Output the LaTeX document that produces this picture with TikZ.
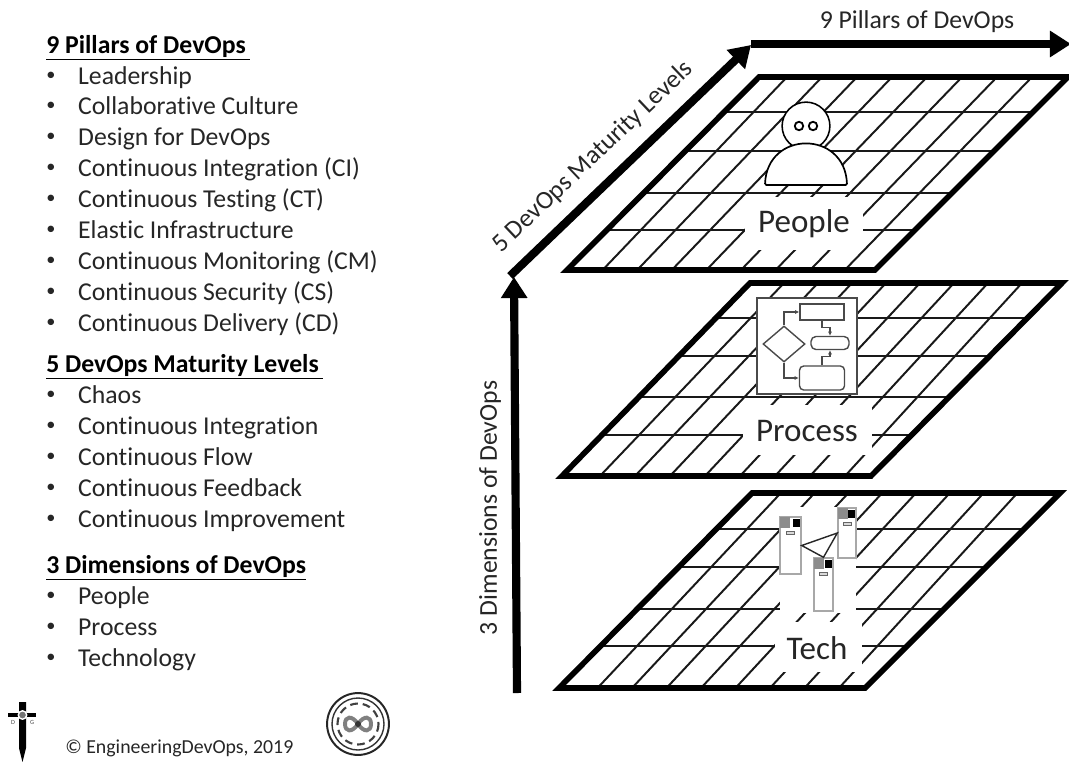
\documentclass[tikz,border=0pt]{standalone}
\usepackage{fontspec}
\setmainfont{Carlito}[Ligatures=NoCommon]
\usepackage{xcolor}
\usetikzlibrary{arrows.meta,calc,shapes.geometric}
\definecolor{inkgray}{HTML}{262626}
\definecolor{flowgray}{HTML}{4A4A4A}
\definecolor{servergray}{HTML}{A8A8A8}
\tikzset{
  listfont/.style={font=\fontsize{18.3pt}{20pt}\selectfont},
  headtext/.style={listfont,anchor=base west,inner sep=0pt,text=black},
  itemtext/.style={listfont,anchor=base west,inner sep=0pt,text=inkgray,
    execute at begin node={\makebox[22.7pt][l]{\raisebox{2.2pt}{\fontsize{13pt}{13pt}\selectfont\textbullet}}}},
  axistext/.style={listfont,inner sep=0pt,text=inkgray},
  planetext/.style={font=\fontsize{23.5pt}{25pt}\selectfont,inner sep=0pt,text=inkgray},
  planeedge/.style={line width=4pt,line join=miter},
  gridline/.style={line width=1.4pt,black!90},
  bigarrow/.style={line width=5.8pt,-{Triangle[length=15pt,width=18pt]}},
  gapbox/.style={fill=white,draw=none,inner sep=0pt},
  flowshape/.style={draw=flowgray,line width=1pt,fill=white,inner sep=0pt},
  flowarrow/.style={draw=flowgray,line width=0.8pt,-{Latex[length=3pt,width=3pt]}},
  serverbox/.style={draw=servergray,line width=1pt,fill=white,inner sep=0pt},
}
\begin{document}
\begin{tikzpicture}[x=0.25mm,y=-0.25mm]
  \clip (0,0) rectangle (1069,761);
  \fill[white] (0,0) rectangle (1069,761);
  % left column
  \node[headtext] (pillarhead) at (46,53) {\textbf{\underline{9 Pillars of DevOps\,}}};
  \node[itemtext] (lead) at (46,84) {Leadership};
  \node[itemtext] (cult) at (46,114) {Collaborative Culture};
  \node[itemtext] (desg) at (46,145) {Design for DevOps};
  \node[itemtext] (cint) at (46,176) {Continuous Integration (CI)};
  \node[itemtext] (ctst) at (46,207) {Continuous Testing (CT)};
  \node[itemtext] (elas) at (46,238) {Elastic Infrastructure};
  \node[itemtext] (cmon) at (46,269) {Continuous Monitoring (CM)};
  \node[itemtext] (csec) at (46,300) {Continuous Security (CS)};
  \node[itemtext] (cdel) at (46,331) {Continuous Delivery (CD)};
  \node[headtext] (levelhead) at (46,372) {\textbf{\underline{5 DevOps Maturity Levels\,}}};
  \node[itemtext] (chao) at (46,403) {Chaos};
  \node[itemtext] (lint) at (46,434) {Continuous Integration};
  \node[itemtext] (lflo) at (46,465) {Continuous Flow};
  \node[itemtext] (lfed) at (46,496) {Continuous Feedback};
  \node[itemtext] (limp) at (46,527) {Continuous Improvement};
  \node[headtext] (dimhead) at (46,573) {\textbf{\underline{3 Dimensions of DevOps}}};
  \node[itemtext] (peop) at (46,604) {People};
  \node[itemtext] (proc) at (46,635) {Process};
  \node[itemtext] (tech) at (46,666) {Technology};
  % footer
  \node[anchor=base west,inner sep=0pt,text=inkgray,font=\fontsize{14.1pt}{15pt}\selectfont] (copyr) at (65,753) {© EngineeringDevOps, 2019};
  \fill[black] (19,702) -- (26,702) -- (26,748) -- (22.5,762) -- (19,748) -- cycle;
  \draw[black,line width=3pt] (8,715) -- (36,715);
  \node[circle,draw=white,fill=black!55,line width=1pt,inner sep=0pt,minimum size=6pt] (hilt) at (22.5,715) {};
  \node[inner sep=0pt,text=black!70,font=\fontsize{4.5pt}{5pt}\selectfont] (hiltd) at (13,722) {D};
  \node[inner sep=0pt,text=black!70,font=\fontsize{4.5pt}{5pt}\selectfont] (hiltg) at (32,722) {G};
  \node[circle,draw=black!85,line width=1.4pt,inner sep=0pt,minimum size=44pt] (logo) at (358,724) {};
  \draw[black!80,line width=1pt] (logo.center) circle (26);
  \draw[black!75,line width=1.5pt,dash pattern=on 5.5pt off 3.5pt] (logo.center) circle (20.5);
  \draw[black!50,line width=2.8pt] (logo.center) .. controls (352,715) and (345,716) .. (345,724)
    .. controls (345,732) and (352,733) .. (logo.center)
    .. controls (364,715) and (371,716) .. (371,724)
    .. controls (371,732) and (364,733) .. (logo.center) -- cycle;
  \fill[black!80] (logo.center) circle (3);
  % axes
  \coordinate (origin) at (517,693);
  \coordinate (uptip) at (514,277);
  \coordinate (diagstart) at (510,276);
  \coordinate (diagtip) at (751,45);
  \coordinate (rightstart) at (751,44);
  \coordinate (righttip) at (1071,44);
  \draw[bigarrow] (origin) -- (uptip);
  \draw[bigarrow] (diagstart) -- (diagtip);
  \draw[bigarrow] (rightstart) -- (righttip);
  \node[axistext] (pillarlabel) at (917,22) {9 Pillars of DevOps};
  \node[axistext,rotate=43.5] (levellabel) at (593,157) {5 DevOps Maturity Levels};
  \node[axistext,rotate=90] (dimlabel) at (490,508) {3 Dimensions of DevOps};
  % people plane
  \coordinate (pTL) at (759,77);
  \coordinate (pTR) at (1068,77);
  \coordinate (pBL) at (567,270);
  \coordinate (pBR) at (875,270);
  \foreach \k in {1,...,8}
    \draw[gridline] ({752+35*\k},77) -- ({568+34.6*\k},270);
  \foreach \t in {0.181,0.383,0.601,0.793}
    \draw[gridline] ($(pTL)!\t!(pBL)$) -- ($(pTR)!\t!(pBR)$);
  \node[gapbox,minimum width=118*0.25mm,minimum height=53*0.25mm] (pgap) at (804,223.5) {};
  \node[planetext] (people) at (804,224) {People};
  \draw[planeedge] (pTL) -- (pTR) -- (pBR) -- (pBL) -- cycle;
  \node[circle,draw=black,fill=white,line width=1.1pt,inner sep=0pt,minimum size=34pt] (head) at (806,126) {};
  \node[circle,draw=black,line width=1.3pt,inner sep=0pt,minimum size=6pt] (eyea) at (799,126) {};
  \node[circle,draw=black,line width=1.3pt,inner sep=0pt,minimum size=6pt] (eyeb) at (813,126) {};
  \draw[black,fill=white,line width=1.2pt,rounded corners=1pt] (765,185) .. controls (767,130) and (845,130) .. (847,185) -- cycle;
  % process plane
  \coordinate (mTL) at (750,283);
  \coordinate (mTR) at (1062,283);
  \coordinate (mBL) at (562,476);
  \coordinate (mBR) at (871,476);
  \foreach \k in {1,...,8}
    \draw[gridline] ({750+34*\k},283) -- ({565+35*\k},476);
  \foreach \t in {0.181,0.378,0.591,0.788}
    \draw[gridline] ($(mTL)!\t!(mBL)$) -- ($(mTR)!\t!(mBR)$);
  \node[gapbox,minimum width=129*0.25mm,minimum height=50*0.25mm] (mgap) at (807.5,430) {};
  \node[planetext] (process) at (807,431) {Process};
  \draw[planeedge] (mTL) -- (mTR) -- (mBR) -- (mBL) -- cycle;
  \node[draw=flowgray,fill=white,line width=1pt,minimum width=100*0.25mm,minimum height=96*0.25mm,inner sep=0pt] (flowbox) at (807,346) {};
  \node[flowshape,diamond,minimum width=42*0.25mm,minimum height=36*0.25mm] (decide) at (784,344) {};
  \node[flowshape,minimum width=44*0.25mm,minimum height=16*0.25mm] (stepa) at (822,312) {};
  \node[flowshape,rounded corners=3.5pt,minimum width=38*0.25mm,minimum height=13*0.25mm] (stepb) at (830,343) {};
  \node[flowshape,rounded corners=3pt,minimum width=45*0.25mm,minimum height=24*0.25mm] (stepc) at (822,378) {};
  \draw[flowarrow] (decide.north) |- (stepa.west);
  \draw[flowarrow] (decide.south) |- (stepc.west);
  \draw[flowarrow] (stepa.south) -- ++(0,7) -| (stepb.north);
  \draw[flowarrow] (stepc.north) -- ++(0,-9) -| (stepb.south);
  % tech plane
  \coordinate (tTL) at (752,493);
  \coordinate (tTR) at (1060,493);
  \coordinate (tBL) at (559,688);
  \coordinate (tBR) at (865,688);
  \foreach \k in {1,...,8}
    \draw[gridline] ({747+33.8*\k},493) -- ({563+34.5*\k},688);
  \foreach \t in {0.185,0.379,0.595,0.785}
    \draw[gridline] ($(tTL)!\t!(tBL)$) -- ($(tTR)!\t!(tBR)$);
  \node[gapbox,minimum width=76*0.25mm,minimum height=106*0.25mm] (tgapa) at (818,560) {};
  \node[gapbox,minimum width=87*0.25mm,minimum height=50*0.25mm] (tgapb) at (818.5,647) {};
  \node[planetext] (techlabel) at (817,648) {Tech};
  \draw[planeedge] (tTL) -- (tTR) -- (tBR) -- (tBL) -- cycle;
  \node[serverbox,minimum width=21*0.25mm,minimum height=57*0.25mm] (svra) at (790.5,545.5) {};
  \node[serverbox,minimum width=18*0.25mm,minimum height=50*0.25mm] (svrb) at (847,533) {};
  \node[serverbox,minimum width=19*0.25mm,minimum height=53*0.25mm] (svrc) at (823.5,584.5) {};
  \foreach \s in {svra,svrb,svrc} {
    \fill[black!45] ($(\s.north west)+(1,1)$) rectangle ++(10,11);
    \fill[black] ($(\s.north east)+(-9,3)$) rectangle ++(7,8);
    \draw[black!60,line width=0.5pt,fill=black!15] ($(\s.north)+(-4,15)$) rectangle ++(8,3);
  }
  \draw[black!85,line width=1pt] (svra.east) -- (svrb.west) -- (svrc.north) -- cycle;
\end{tikzpicture}
\end{document}
